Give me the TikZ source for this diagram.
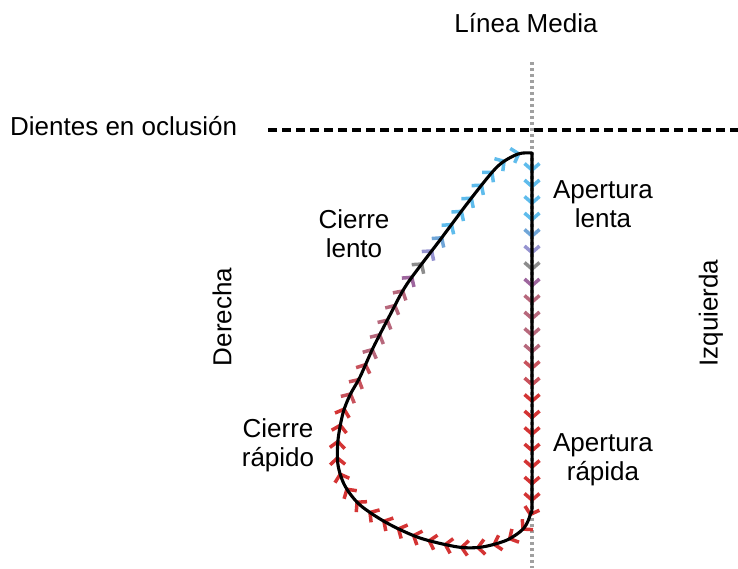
\documentclass[tikz,border=0pt]{standalone}
\usepackage{fontspec}
\setmainfont{Liberation Sans}
\usetikzlibrary{decorations.markings}
\definecolor{dotgray}{RGB}{160,160,160}
\makeatletter
\newcommand\setchevcolor{%
  \pgfpointtransformed{\pgfpointorigin}%
  \ifdim\pgf@y>-228pt \definecolor{chev}{RGB}{95,188,236}%
  \else\ifdim\pgf@y>-244pt \definecolor{chev}{RGB}{112,166,216}%
  \else\ifdim\pgf@y>-259pt \definecolor{chev}{RGB}{150,148,208}%
  \else\ifdim\pgf@y>-275pt \definecolor{chev}{RGB}{140,140,140}%
  \else\ifdim\pgf@y>-291pt \definecolor{chev}{RGB}{158,102,158}%
  \else\ifdim\pgf@y>-355pt \definecolor{chev}{RGB}{183,104,124}%
  \else\ifdim\pgf@y>-400pt \definecolor{chev}{RGB}{200,82,92}%
  \else \definecolor{chev}{RGB}{212,52,52}%
  \fi\fi\fi\fi\fi\fi\fi}
\makeatother
\tikzset{
  lbl/.style={inner sep=0pt, font=\fontsize{26}{29}\selectfont, align=center},
  chevron/.style={line width=3.5pt, draw=chev, line join=miter},
  trace/.style={line width=3.1pt, line join=round, line cap=round},
  occl/.style={line width=3.8pt, dash pattern=on 9pt off 5pt},
  midline/.style={line width=3.2pt, draw=dotgray, dash pattern=on 3pt off 3pt},
}
\newcommand\jawpath{plot[smooth] coordinates {(532,153) (532,300) (532,495) (531,512) (524,528) (507,540) (482,547) (458,547) (420,538) (387,523) (360,505) (345,486) (338,465) (338,440) (343,413) (350,395) (360,377) (373,348) (390,315) (407,284) (440,240) (473,196) (498,166) (518,154) (532,153)}}
\begin{document}
\begin{tikzpicture}[x=1pt,y=-1pt]
\useasboundingbox (0,0) rectangle (738,568);
\coordinate (dl) at (268,130);
\coordinate (dr) at (738,130);
\coordinate (mt) at (532,62);
\coordinate (mb) at (532,568);
\draw[midline] (mt) -- (mb);
\draw[occl] (dl) -- (dr);
\path[decorate, decoration={markings,
  mark=between positions 17pt and 0.995 step 16.5pt with {\setchevcolor\draw[chevron] (-6.5,7.5) -- (0,0) -- (-6.5,-7.5);}}] \jawpath;
\draw[trace] \jawpath;
\node[lbl, anchor=base] (lm) at (526,32) {Línea Media};
\node[lbl, anchor=base west] (dent) at (10,135) {Dientes en oclusión};
\node[lbl] (al) at (603,204) {Apertura\\lenta};
\node[lbl] (cl) at (354,234) {Cierre\\lento};
\node[lbl] (cr) at (278,445) {Cierre\\rápido};
\node[lbl] (ar) at (603,460) {Apertura\\rápida};
\node[lbl, rotate=90] (der) at (222,317) {Derecha};
\node[lbl, rotate=90] (izq) at (711,313) {Izquierda};
\end{tikzpicture}
\end{document}
